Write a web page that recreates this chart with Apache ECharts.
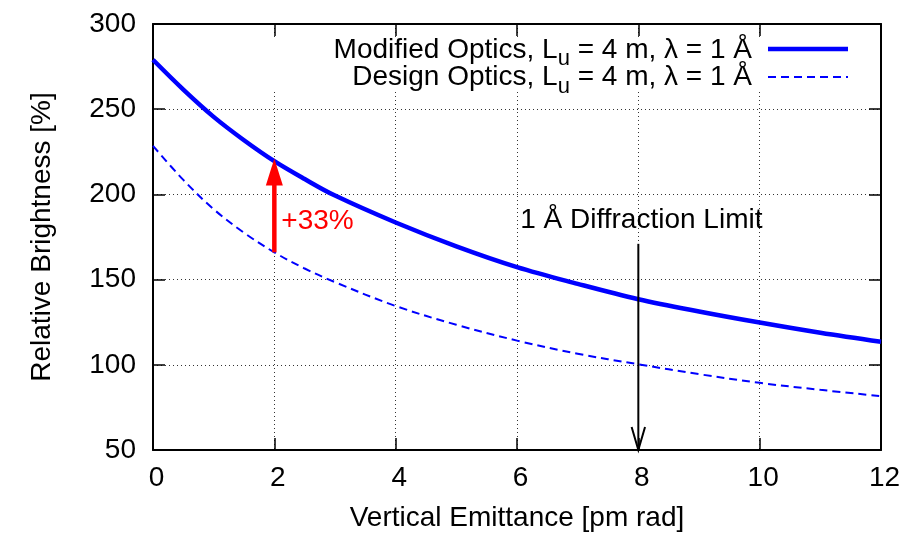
<!DOCTYPE html>
<html><head><meta charset="utf-8">
<script src="https://cdn.jsdelivr.net/npm/echarts@6/dist/echarts.min.js"></script>
<style>html,body{margin:0;padding:0;background:#fff}#c{width:908px;height:537px}</style>
</head><body><div id="c"></div>
<script>
// ---- data ----
const emittance = [0, 0.5, 1, 1.5, 2, 2.5, 3, 4, 5, 6, 7, 8, 9, 10, 11, 12];
const modifiedBrightness = [279, 261.5, 245.5, 231.8, 219.5, 209, 199.3, 183.5, 169.5, 157.3, 147.5, 138.5, 131.3, 124.8, 118.8, 113.5];
const designBrightness = [228.5, 208.5, 191.3, 177.5, 166, 156.5, 148.5, 134.5, 123.5, 114.2, 106.5, 100.3, 94.5, 89.4, 85.3, 81.6];
const xRange = [0, 12, 2];     // min, max, interval
const yRange = [50, 300, 50];  // min, max, interval
const seriesNames = ['Modified Optics', 'Design Optics'];
const gainArrow = [[2, 166], [2, 221]];
const gainLabel = '+33%';
const gainLabelAt = [2, 184];
const limitArrow = [[8, 171], [8, 50]];
const limitLabel = '1 Å Diffraction Limit';
const limitLabelAt = [8, 185];
const xTitle = 'Vertical Emittance [pm rad]';
const yTitle = 'Relative Brightness [%]';

// ---- chart ----
const FONT = 'Liberation Sans';
const toPairs = (xs, ys) => xs.map((x, i) => [x, ys[i]]);
const chart = echarts.init(document.getElementById('c'), null, {renderer: 'canvas'});

const borderLine = {show: true, onZero: false, lineStyle: {color: '#000', width: 2}};
const innerTick = {show: true, inside: true, length: 12, lineStyle: {color: '#000', width: 1.5}};
const dotted = {show: true, lineStyle: {color: '#333', width: 1, type: [1, 3]}};
const labelFont = {fontFamily: FONT, fontSize: 28, color: '#000'};

const legendRich = {
  n: {fontFamily: FONT, fontSize: 28, lineHeight: 28, color: '#000', verticalAlign: 'top'},
  s: {fontFamily: FONT, fontSize: 22, lineHeight: 22, color: '#000', verticalAlign: 'top', padding: [12, 0, 0, 0]}
};
const legendText = name => '{n|' + name + ', L}{s|u}{n| = 4 m, λ = 1 Å}';

const option = {
  animation: false,
  backgroundColor: '#fff',
  grid: {left: 153, right: 27, top: 24, bottom: 84, containLabel: false},
  xAxis: [
    {type: 'value', min: xRange[0], max: xRange[1], interval: xRange[2], position: 'bottom',
     axisLine: borderLine, axisTick: innerTick,
     axisLabel: Object.assign({margin: 14, padding: [0, 0, 0, 7]}, labelFont),
     splitLine: dotted,
     name: xTitle, nameLocation: 'middle', nameGap: 54,
     nameTextStyle: {fontFamily: FONT, fontSize: 28, color: '#000'}},
    {type: 'value', min: xRange[0], max: xRange[1], interval: xRange[2], position: 'top',
     axisLine: borderLine, axisTick: innerTick, axisLabel: {show: false}, splitLine: {show: false}}
  ],
  yAxis: [
    {type: 'value', min: yRange[0], max: yRange[1], interval: yRange[2], position: 'left',
     axisLine: borderLine, axisTick: innerTick,
     axisLabel: Object.assign({margin: 17}, labelFont),
     splitLine: dotted,
     name: yTitle, nameLocation: 'middle', nameGap: 97,
     nameTextStyle: {fontFamily: FONT, fontSize: 28, color: '#000'}},
    {type: 'value', min: yRange[0], max: yRange[1], interval: yRange[2], position: 'right',
     axisLine: borderLine, axisTick: innerTick, axisLabel: {show: false}, splitLine: {show: false}}
  ],
  graphic: [
    {type: 'rect', z: 1, silent: true, shape: {x: 262, y: 37, width: 616, height: 55}, style: {fill: '#fff'}},
    {type: 'text', z: 3, silent: true, style: {x: 752, y: 50, text: legendText(seriesNames[0]), align: 'right', verticalAlign: 'middle', rich: legendRich}},
    {type: 'line', z: 3, silent: true, shape: {x1: 768, y1: 49, x2: 848, y2: 49}, style: {stroke: '#0000ff', lineWidth: 4.5}},
    {type: 'text', z: 3, silent: true, style: {x: 752, y: 77.5, text: legendText(seriesNames[1]), align: 'right', verticalAlign: 'middle', rich: legendRich}},
    {type: 'line', z: 3, silent: true, shape: {x1: 768, y1: 77, x2: 848, y2: 77}, style: {stroke: '#0000ff', lineWidth: 2, lineDash: [8, 5]}}
  ],
  series: [
    {name: seriesNames[0], type: 'line', data: toPairs(emittance, modifiedBrightness), smooth: 0.35,
     showSymbol: false, symbol: 'none', lineStyle: {color: '#0000ff', width: 4.5}, z: 3},
    {name: seriesNames[1], type: 'line', data: toPairs(emittance, designBrightness), smooth: 0.35,
     showSymbol: false, symbol: 'none', lineStyle: {color: '#0000ff', width: 2, type: [8, 5]}, z: 3},
    {type: 'custom', silent: true, z: 4, clip: false, data: [gainArrow[0]],
     renderItem: function (params, api) {
       const g0 = api.coord(gainArrow[0]), g1 = api.coord(gainArrow[1]);
       const hl = 27, hw = 17;
       const gt = api.coord(gainLabelAt);
       const l0 = api.coord(limitArrow[0]), l1 = api.coord(limitArrow[1]);
       const lt = api.coord(limitLabelAt);
       return {type: 'group', children: [
         {type: 'line', shape: {x1: g0[0], y1: g0[1], x2: g1[0], y2: g1[1] + hl - 1}, style: {stroke: '#ff0000', lineWidth: 4.5}},
         {type: 'polygon', shape: {points: [[g1[0], g1[1]], [g1[0] - hw / 2, g1[1] + hl], [g1[0] + hw / 2, g1[1] + hl]]}, style: {fill: '#ff0000'}},
         {type: 'text', style: {x: gt[0] + 7, y: gt[1], text: gainLabel, fill: '#ff0000', font: '28px "' + FONT + '"', align: 'left', verticalAlign: 'middle'}},
         {type: 'line', shape: {x1: l0[0], y1: l0[1], x2: l1[0], y2: l1[1]}, style: {stroke: '#000', lineWidth: 2}},
         {type: 'polyline', shape: {points: [[l1[0] - 6.7, l1[1] - 23], [l1[0], l1[1]], [l1[0] + 6.7, l1[1] - 23]]}, style: {stroke: '#000', lineWidth: 2, fill: null}},
         {type: 'text', style: {x: lt[0] + 3, y: lt[1], text: limitLabel, fill: '#000', font: '28px "' + FONT + '"', align: 'center', verticalAlign: 'middle'}}
       ]};
     }}
  ]
};
chart.setOption(option);
</script></body></html>
